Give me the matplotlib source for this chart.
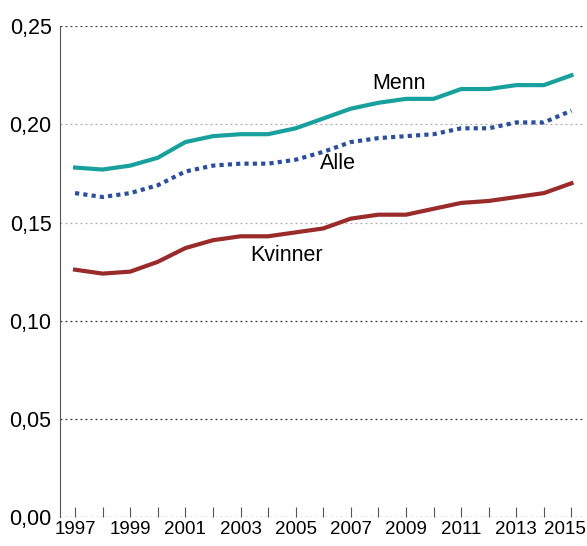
import numpy as np
import matplotlib.pyplot as plt
from matplotlib.ticker import FuncFormatter
from matplotlib.transforms import offset_copy

plt.rcParams['font.family'] = ['Liberation Sans', 'DejaVu Sans']

years = list(range(1997, 2016))
menn = [0.178, 0.177, 0.179, 0.183, 0.191, 0.194, 0.195, 0.195, 0.198, 0.203,
        0.208, 0.211, 0.213, 0.213, 0.218, 0.218, 0.220, 0.220, 0.225]
alle = [0.165, 0.163, 0.165, 0.169, 0.176, 0.179, 0.180, 0.180, 0.182, 0.186,
        0.191, 0.193, 0.194, 0.195, 0.198, 0.198, 0.201, 0.201, 0.207]
kvinner = [0.126, 0.124, 0.125, 0.130, 0.137, 0.141, 0.143, 0.143, 0.145, 0.147,
           0.152, 0.154, 0.154, 0.157, 0.160, 0.161, 0.163, 0.165, 0.170]
yticks = [0.0, 0.05, 0.10, 0.15, 0.20, 0.25]

fig = plt.figure(figsize=(5.87, 5.46), dpi=100)
ax = fig.add_axes([0.102, 0.053, 0.895, 0.899])

for v in yticks:
    c = '#aaaaaa' if v in (0.15, 0.20) else '#333333'
    ax.axhline(v, color=c, lw=0.9, ls=(0, (1.5, 2.5)), zorder=1)

ax.plot(years, menn, color='#17a09c', lw=3, zorder=3)
ax.plot(years, alle, color='#2b4f9c', lw=3, ls=(0, (1, 1)), zorder=3)
ax.plot(years, kvinner, color='#9a2b2b', lw=3, zorder=3)

ax.text(2008.76, 0.221, 'Menn', fontsize=15.5, ha='center', va='center')
ax.text(2006.54, 0.180, 'Alle', fontsize=15.5, ha='center', va='center')
ax.text(2004.66, 0.133, 'Kvinner', fontsize=15.5, ha='center', va='center')

ax.set_xlim(1996.45, 2015.5)
ax.set_ylim(0, 0.25)
ax.set_yticks(yticks)
ax.yaxis.set_major_formatter(FuncFormatter(lambda v, p: f'{v:.2f}'.replace('.', ',')))
ax.set_xticks(years)
ax.set_xticklabels([])

# year labels, last one nudged left so it stays inside the figure
base = ax.get_xaxis_transform()
for y in years[::2]:
    dx = -7 if y == years[-1] else 0
    tr = offset_copy(base, fig=fig, x=dx, y=-4, units='dots')
    ax.text(y, 0, str(y), transform=tr, ha='center', va='top', fontsize=13.5)

for s in ['top', 'right', 'bottom']:
    ax.spines[s].set_visible(False)
ax.spines['left'].set_color('#555555')
ax.tick_params(axis='y', length=0, labelsize=15.5, pad=6)
ax.tick_params(axis='x', direction='in', length=7, color='#555555')

plt.savefig('out.png', dpi=100)
